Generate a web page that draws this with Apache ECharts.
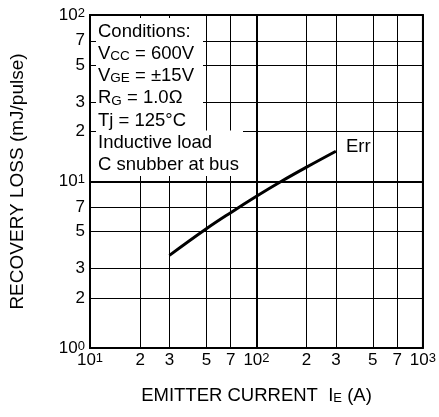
<!DOCTYPE html>
<html>
<head>
<meta charset="utf-8">
<script src="https://cdn.jsdelivr.net/npm/echarts@6/dist/echarts.min.js"></script>
<style>
  html, body { margin: 0; padding: 0; background: #fff; }
  #chart { width: 439px; height: 417px; }
</style>
</head>
<body>
<div id="chart"></div>
<script>
// emitter current (A) and recovery loss (mJ/pulse)
const currentA = [30, 50, 70, 100, 143, 200, 300];
const errLoss = [3.6, 5.2, 6.5, 8.15, 10.1, 12.2, 15.2];

const xTicks = [10, 20, 30, 50, 70, 100, 200, 300, 500, 700, 1000];
const yTicks = [1, 2, 3, 5, 7, 10, 20, 30, 50, 70, 100];

const conditions = [
  'Conditions:',
  'V{s|CC} = 600V',
  'V{s|GE} = \u00b115V',
  'R{s|G} = 1.0\u03a9',
  'Tj = 125\u00b0C',
  'Inductive load',
  'C snubber at bus'
];

const FONT = '"Liberation Sans", Arial, sans-serif';

function logLabel(v) {
  const e = Math.round(Math.log10(v));
  if (Math.abs(v - Math.pow(10, e)) < 1e-6 * v) return '10{sup|' + e + '}';
  return String(Math.round(v / Math.pow(10, Math.floor(Math.log10(v) + 1e-9))));
}

const chart = echarts.init(document.getElementById('chart'));

const gridLine = { show: true, lineStyle: { color: '#000', width: 1 } };
const tickRich = { sup: { fontSize: 13, verticalAlign: 'top', fontFamily: FONT, color: '#000' } };

const textLines = conditions.map((t, i) => ({
  type: 'text',
  z: 101,
  left: 98,
  top: 22 + i * 22.3,
  style: {
    text: t,
    fill: '#000',
    font: '18.5px ' + FONT,
    rich: { s: { fontSize: 13.5, fontFamily: FONT, verticalAlign: 'bottom', fill: '#000' } }
  }
}));

chart.setOption({
  animation: false,
  grid: {
    left: 90, top: 15, right: 15, bottom: 69,
    show: true, borderColor: '#000', borderWidth: 2
  },
  xAxis: {
    type: 'log', logBase: 10, min: 10, max: 1000,
    name: 'EMITTER CURRENT  I{s|E} (A)',
    nameLocation: 'middle', nameGap: 38,
    nameTextStyle: {
      fontSize: 18.5, color: '#000', fontFamily: FONT,
      rich: { s: { fontSize: 13, verticalAlign: 'bottom', color: '#000', fontFamily: FONT } }
    },
    axisLine: { show: false },
    axisTick: { show: false, customValues: xTicks },
    axisLabel: {
      customValues: xTicks, formatter: logLabel, margin: 4,
      fontSize: 17, color: '#000', fontFamily: FONT, rich: tickRich
    },
    splitLine: gridLine
  },
  yAxis: {
    type: 'log', logBase: 10, min: 1, max: 100,
    name: 'RECOVERY LOSS (mJ/pulse)',
    nameLocation: 'middle', nameGap: 63,
    nameTextStyle: { fontSize: 19, color: '#000', fontFamily: FONT },
    axisLine: { show: false },
    axisTick: { show: false, customValues: yTicks },
    axisLabel: {
      customValues: yTicks, formatter: logLabel, margin: 5,
      fontSize: 17, color: '#000', fontFamily: FONT, rich: tickRich
    },
    splitLine: gridLine
  },
  series: [{
    name: 'Err',
    type: 'line',
    data: currentA.map((x, i) => [x, errLoss[i]]),
    symbol: 'none',
    smooth: 0.4,
    lineStyle: { color: '#000', width: 3 },
    endLabel: {
      show: true, formatter: 'Err', offset: [2, -4],
      fontSize: 18.5, color: '#000', fontFamily: FONT
    },
    markLine: {
      silent: true, symbol: 'none', animation: false,
      label: { show: false },
      lineStyle: { color: '#000', width: 2, type: 'solid' },
      data: [{ xAxis: 100 }, { yAxis: 10 }]
    }
  }],
  graphic: [
    { type: 'rect', z: 100, shape: { x: 96, y: 18, width: 107, height: 113 }, style: { fill: '#fff' } },
    { type: 'rect', z: 100, shape: { x: 96, y: 130.5, width: 147, height: 45.5 }, style: { fill: '#fff' } }
  ].concat(textLines)
});
</script>
</body>
</html>
